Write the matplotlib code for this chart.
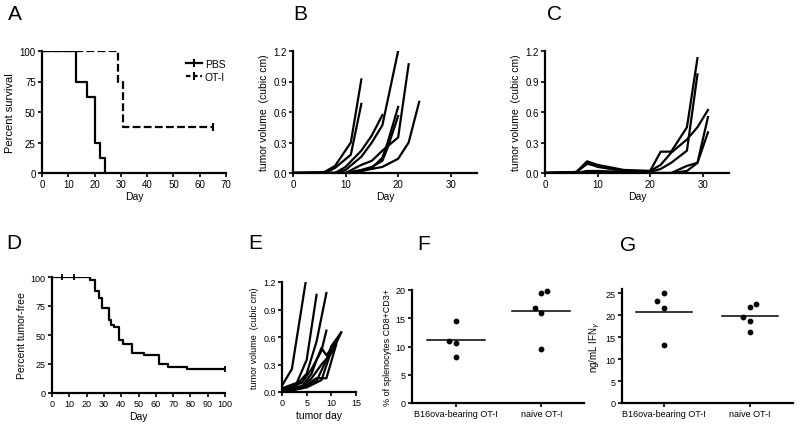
import matplotlib
matplotlib.use('Agg')
import matplotlib.pyplot as plt
from matplotlib.lines import Line2D

plt.rcParams['font.family'] = ['Liberation Sans', 'DejaVu Sans']
plt.rcParams['mathtext.fontset'] = 'dejavusans'

# A: survival (Kaplan-Meier steps)
pbs_days = [0, 13, 17, 20, 22, 24]
pbs_surv = [100, 75, 62.5, 25, 12.5, 0]
oti_days = [0, 29, 31, 65]
oti_surv = [100, 75, 37.5, 37.5]

# B: tumor growth, PBS mice
b_days = [
    [0, 6, 8, 11, 13],
    [0, 6, 8, 11, 13],
    [0, 8, 10, 13, 15, 17],
    [0, 8, 10, 13, 15, 17, 20],
    [0, 10, 13, 15, 17, 20, 22],
    [0, 10, 13, 15, 17, 18, 20],
    [0, 10, 13, 15, 17, 18, 20],
    [0, 10, 13, 17, 20, 22, 24],
]
b_vols = [
    [0, 0.01, 0.07, 0.30, 0.92],
    [0, 0.0, 0.05, 0.18, 0.68],
    [0, 0.0, 0.06, 0.22, 0.37, 0.57],
    [0, 0.0, 0.03, 0.16, 0.30, 0.47, 1.20],
    [0, 0.0, 0.08, 0.12, 0.22, 0.35, 1.07],
    [0, 0.0, 0.02, 0.05, 0.15, 0.30, 0.65],
    [0, 0.0, 0.03, 0.06, 0.12, 0.25, 0.56],
    [0, 0.0, 0.02, 0.06, 0.14, 0.30, 0.70],
]

# C: tumor growth, OT-I mice
c_days = [
    [0, 6, 8, 10, 15, 20, 22, 24, 27, 29],
    [0, 6, 8, 10, 15, 20, 22, 24, 27, 29],
    [0, 6, 8, 10, 15, 20, 22, 24, 27, 29, 31],
    [0, 6, 8, 10, 15, 20, 22, 24, 27, 29, 31],
    [0, 6, 8, 10, 15, 20, 22, 24, 27, 29, 31],
]
c_vols = [
    [0, 0.01, 0.115, 0.08, 0.03, 0.02, 0.21, 0.21, 0.45, 1.13],
    [0, 0.01, 0.09, 0.07, 0.02, 0.01, 0.04, 0.10, 0.22, 0.97],
    [0, 0.01, 0.10, 0.06, 0.02, 0.02, 0.08, 0.20, 0.33, 0.45, 0.62],
    [0, 0.0, 0.02, 0.02, 0.01, 0.0, 0.0, 0.0, 0.07, 0.10, 0.55],
    [0, 0.0, 0.01, 0.01, 0.0, 0.0, 0.0, 0.0, 0.02, 0.10, 0.40],
]

# D: tumor-free survival
d_days = [0, 22, 25, 27, 29, 33, 34, 36, 39, 41, 46, 53, 62, 67, 78, 100]
d_pct = [100, 97.4, 88, 82, 73.5, 63, 59, 57, 46, 42, 34.5, 32.5, 25, 22.5, 20.3, 20.3]
d_censor = [6, 13, 100]
d_censor_pct = [100, 100, 20.3]

# E: tumor volume by tumor day
e_days = [
    [0, 2, 4.8],
    [0, 3, 5, 7],
    [0, 3, 5, 7, 9],
    [0, 4, 6, 8, 9],
    [0, 4, 6, 7, 8, 9, 11],
    [0, 4, 6, 8, 10, 12],
    [0, 5, 7, 9, 11],
    [0, 5, 8, 10],
    [0, 4, 7, 9, 10, 12],
]
e_vols = [
    [0.07, 0.25, 1.20],
    [0.04, 0.10, 0.35, 1.06],
    [0.03, 0.08, 0.20, 0.55, 1.08],
    [0.02, 0.10, 0.25, 0.45, 0.67],
    [0.02, 0.06, 0.20, 0.35, 0.48, 0.40, 0.55],
    [0.01, 0.05, 0.15, 0.30, 0.42, 0.65],
    [0.01, 0.08, 0.15, 0.15, 0.52],
    [0.0, 0.05, 0.13, 0.45],
    [0.0, 0.04, 0.12, 0.35, 0.50, 0.65],
]

# F / G: dot plots
groups = ['B16ova-bearing OT-I', 'naive OT-I']
f_b16 = [14.5, 11.0, 10.7, 8.1]
f_naive = [16.9, 19.4, 19.9, 15.9, 9.5]
g_b16 = [25.1, 23.2, 21.7, 13.2]
g_naive = [21.9, 22.5, 19.6, 18.7, 16.1]
jit_b16 = [0, -0.08, 0, 0]
jit_naive = [-0.08, 0, 0.07, 0, 0]
jit_g_b16 = [0, -0.08, 0, 0]
jit_g_naive = [0, 0.07, -0.08, 0, 0]


def style(ax):
    for s in ['top', 'right']:
        ax.spines[s].set_visible(False)
    for s in ['left', 'bottom']:
        ax.spines[s].set_linewidth(1.6)
    ax.tick_params(direction='out', length=3, width=1.2, labelsize=7, pad=1.5)


fig = plt.figure(figsize=(8, 4.27), dpi=100)
W, H = 800.0, 427.0


def box(l, r, t, b):
    return [l / W, 1 - b / H, (r - l) / W, (b - t) / H]


lw = 1.6

# A
ax = fig.add_axes(box(42, 226, 52, 174))
style(ax)
ax.step(pbs_days + [24], pbs_surv + [0], where='post', color='k', lw=lw)
ax.step(oti_days, oti_surv, where='post', color='k', lw=lw, ls=(0, (3.5, 1.5)))
ax.plot([65], [37.5], marker='|', color='k', ms=6, mew=1.5)
ax.set_xlim(0, 70)
ax.set_ylim(0, 100)
ax.set_xticks(range(0, 71, 10))
ax.set_yticks([0, 25, 50, 75, 100])
ax.set_xlabel('Day', fontsize=7.5, labelpad=1)
ax.set_ylabel('Percent survival', fontsize=8, labelpad=3)
h1 = Line2D([], [], color='k', lw=lw, marker='|', ms=6, mew=1.5)
h2 = Line2D([], [], color='k', lw=lw, ls=(0, (2, 1.2)), marker='|', ms=6, mew=1.5)
ax.legend([h1, h2], ['PBS', 'OT-I'], loc='upper right', frameon=False, fontsize=7.5,
          handlelength=1.5, handletextpad=0.3, borderaxespad=0.0, labelspacing=0.3,
          bbox_to_anchor=(1.02, 0.97))
fig.text(8 / W, 1 - 15 / H, 'A', fontsize=15, va='center')

# B
ax = fig.add_axes(box(293, 477, 52, 174))
style(ax)
for d, v in zip(b_days, b_vols):
    ax.plot(d, v, color='k', lw=lw)
ax.set_xlim(0, 35)
ax.set_ylim(0, 1.2)
ax.set_xticks([0, 10, 20, 30])
ax.set_yticks([0, 0.3, 0.6, 0.9, 1.2])
ax.set_yticklabels(['0.0', '0.3', '0.6', '0.9', '1.2'])
ax.set_xlabel('Day', fontsize=7.5, labelpad=1)
ax.set_ylabel('tumor volume  (cubic cm)', fontsize=7.5, labelpad=3)
fig.text(293 / W, 1 - 15 / H, 'B', fontsize=15, va='center')

# C
ax = fig.add_axes(box(545, 729, 52, 174))
style(ax)
for d, v in zip(c_days, c_vols):
    ax.plot(d, v, color='k', lw=lw)
ax.set_xlim(0, 35)
ax.set_ylim(0, 1.2)
ax.set_xticks([0, 10, 20, 30])
ax.set_yticks([0, 0.3, 0.6, 0.9, 1.2])
ax.set_yticklabels(['0.0', '0.3', '0.6', '0.9', '1.2'])
ax.set_xlabel('Day', fontsize=7.5, labelpad=1)
ax.set_ylabel('tumor volume  (cubic cm)', fontsize=7.5, labelpad=3)
fig.text(547 / W, 1 - 15 / H, 'C', fontsize=15, va='center')

# D
ax = fig.add_axes(box(52, 225, 278, 394))
style(ax)
ax.step(d_days, d_pct, where='post', color='k', lw=lw)
ax.plot(d_censor, d_censor_pct, ls='none', marker='|', color='k', ms=5, mew=1.3,
        clip_on=False)
ax.set_xlim(0, 100)
ax.set_ylim(0, 100)
ax.set_xticks(range(0, 101, 10))
ax.set_yticks([0, 25, 50, 75, 100])
ax.tick_params(labelsize=6.5)
ax.set_xlabel('Day', fontsize=7.5, labelpad=2)
ax.set_ylabel('Percent tumor-free', fontsize=7.5, labelpad=3)
fig.text(6 / W, 1 - 244 / H, 'D', fontsize=15, va='center')

# E
ax = fig.add_axes(box(282, 356, 283, 393))
style(ax)
for d, v in zip(e_days, e_vols):
    ax.plot(d, v, color='k', lw=lw)
ax.set_xlim(0, 15)
ax.set_ylim(0, 1.2)
ax.set_xticks([0, 5, 10, 15])
ax.set_yticks([0, 0.3, 0.6, 0.9, 1.2])
ax.set_yticklabels(['0.0', '0.3', '0.6', '0.9', '1.2'])
ax.tick_params(labelsize=6.5)
ax.set_xlabel('tumor day', fontsize=7.5, labelpad=2)
ax.set_ylabel('tumor volume  (cubic cm)', fontsize=6.5, labelpad=3)
fig.text(248 / W, 1 - 244 / H, 'E', fontsize=15, va='center')

# F
ax = fig.add_axes(box(412, 584, 291, 404))
style(ax)
ax.scatter([0 + j for j in jit_b16], f_b16, s=10, color='k', zorder=3, clip_on=False)
ax.scatter([1 + j for j in jit_naive], f_naive, s=10, color='k', zorder=3, clip_on=False)
ax.plot([-0.34, 0.34], [sum(f_b16) / len(f_b16)] * 2, color='k', lw=1.1)
ax.plot([1 - 0.34, 1 + 0.34], [sum(f_naive) / len(f_naive)] * 2, color='k', lw=1.1)
ax.set_xlim(-0.52, 1.5)
ax.set_ylim(0, 20)
ax.set_xticks([0, 1])
ax.set_xticklabels(groups, fontsize=6.5)
ax.set_yticks([0, 5, 10, 15, 20])
ax.tick_params(axis='y', labelsize=6.5)
ax.set_ylabel('% of splenocytes CD8+CD3+', fontsize=6.5, labelpad=3)
fig.text(417 / W, 1 - 245 / H, 'F', fontsize=15, va='center')

# G
ax = fig.add_axes(box(622, 793, 290, 404))
style(ax)
ax.scatter([0 + j for j in jit_g_b16], g_b16, s=10, color='k', zorder=3, clip_on=False)
ax.scatter([1 + j for j in jit_g_naive], g_naive, s=10, color='k', zorder=3, clip_on=False)
ax.plot([-0.33, 0.33], [sum(g_b16) / len(g_b16)] * 2, color='k', lw=1.1)
ax.plot([1 - 0.33, 1 + 0.33], [sum(g_naive) / len(g_naive)] * 2, color='k', lw=1.1)
ax.set_xlim(-0.49, 1.5)
ax.set_ylim(0, 26)
ax.set_xticks([0, 1])
ax.set_xticklabels(groups, fontsize=6.5)
ax.set_yticks([0, 5, 10, 15, 20, 25])
ax.tick_params(axis='y', labelsize=6.5)
ax.set_ylabel('ng/mL IFN$_\\gamma$', fontsize=7, labelpad=3)
fig.text(620 / W, 1 - 246 / H, 'G', fontsize=15, va='center')

fig.savefig('out.png', dpi=100)
